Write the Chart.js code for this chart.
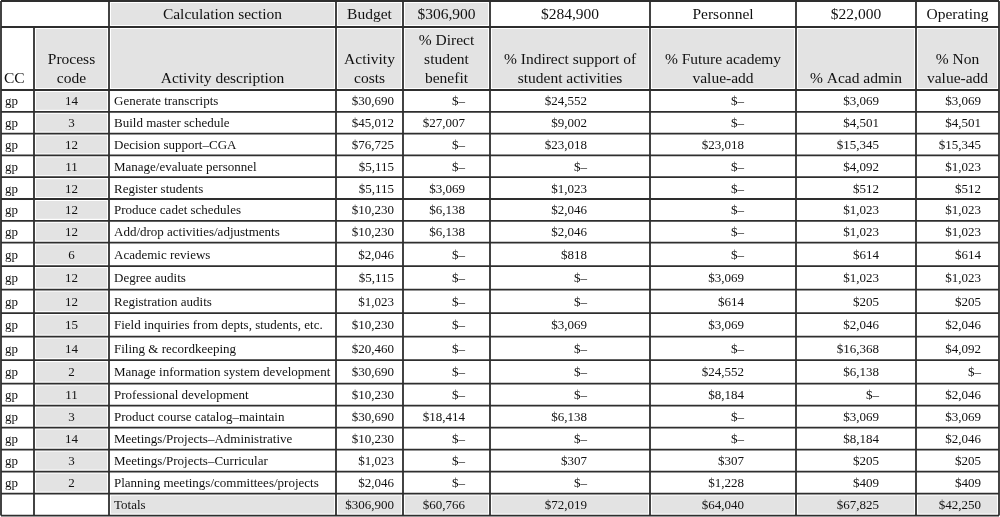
<!DOCTYPE html>
<html>
<head>
<meta charset="utf-8">
<script src="https://cdn.jsdelivr.net/npm/chart.js@4"></script>
<style>
  html, body { margin: 0; padding: 0; background: #fff; }
  #tabella { display: block; }
</style>
</head>
<body>
<canvas id="tabella" width="1000" height="517"></canvas>
<script>
// --- dati ---
const topHeader = ['', 'Calculation section', 'Budget', '$306,900', '$284,900', 'Personnel', '$22,000', 'Operating'];
const colHeaders = [
    ['CC'],
    ['Process', 'code'],
    ['Activity description'],
    ['Activity', 'costs'],
    ['% Direct', 'student', 'benefit'],
    ['% Indirect support of', 'student activities'],
    ['% Future academy', 'value-add'],
    ['% Acad admin'],
    ['% Non', 'value-add']
];
const cc = ['gp','gp','gp','gp','gp','gp','gp','gp','gp','gp','gp','gp','gp','gp','gp','gp','gp','gp'];
const processCodes = [14, 3, 12, 11, 12, 12, 12, 6, 12, 12, 15, 14, 2, 11, 3, 14, 3, 2];
const descriptions = [
    'Generate transcripts',
    'Build master schedule',
    'Decision support\u2013CGA',
    'Manage/evaluate personnel',
    'Register students',
    'Produce cadet schedules',
    'Add/drop activities/adjustments',
    'Academic reviews',
    'Degree audits',
    'Registration audits',
    'Field inquiries from depts, students, etc.',
    'Filing & recordkeeping',
    'Manage information system development',
    'Professional development',
    'Product course catalog\u2013maintain',
    'Meetings/Projects\u2013Administrative',
    'Meetings/Projects\u2013Curricular',
    'Planning meetings/committees/projects'
];
const activityCosts = [30690, 45012, 76725, 5115, 5115, 10230, 10230, 2046, 5115, 1023, 10230, 20460, 30690, 10230, 30690, 10230, 1023, 2046];
const directBenefit = [0, 27007, 0, 0, 3069, 6138, 6138, 0, 0, 0, 0, 0, 0, 0, 18414, 0, 0, 0];
const indirectSupport = [24552, 9002, 23018, 0, 1023, 2046, 2046, 818, 0, 0, 3069, 0, 0, 0, 6138, 0, 307, 0];
const futureValue = [0, 0, 23018, 0, 0, 0, 0, 0, 3069, 614, 3069, 0, 24552, 8184, 0, 0, 307, 1228];
const acadAdmin = [3069, 4501, 15345, 4092, 512, 1023, 1023, 614, 1023, 205, 2046, 16368, 6138, 0, 3069, 8184, 205, 409];
const nonValueAdd = [3069, 4501, 15345, 1023, 512, 1023, 1023, 614, 1023, 205, 2046, 4092, 0, 2046, 3069, 2046, 205, 409];
const totalsLabel = 'Totals';
const totals = [306900, 60766, 72019, 64040, 67825, 42250];

// --- layout (unita' delle scale) ---
const colWidths = [33, 75, 227, 67, 87, 160, 146, 120, 83];
const rightPad = [0, 0, 0, 9, 25, 63, 52, 37, 18];
const headerHeights = [26, 63];
const dataRowHeights = [21.8, 21.8, 21.8, 21.8, 21.8, 21.8, 21.8,
                        23.5, 23.5, 23.5, 23.5, 23.5, 23.5,
                        22, 22, 22, 22, 22, 22];

const GRIGIO = '#e3e3e3';
const LINEA = '#2e2e2e';
const TESTO = '#111';
const FONT_HEAD = '15.5px "Liberation Serif", serif';
const FONT_BODY = '13px "Liberation Serif", serif';

function fmt(v) {
    if (!v) return '$\u2013';
    return '$' + v.toLocaleString('en-US');
}

function cumul(start, arr) {
    let out = [start];
    arr.forEach(w => out.push(out[out.length - 1] + w));
    return out;
}

const colEdges = cumul(1, colWidths);
const rowEdges = cumul(1, headerHeights.concat(dataRowHeights));

const tablePlugin = {
    id: 'tabella',
    beforeDatasetsDraw(chart) {
        const ctx = chart.ctx;
        const xs = chart.scales.x, ys = chart.scales.y;
        const X = i => xs.getPixelForValue(colEdges[i]);
        const Y = r => ys.getPixelForValue(rowEdges[r]);

        function fillCell(c0, c1, r, col) {
            ctx.fillStyle = col;
            ctx.fillRect(X(c0) + 2, Y(r) + 2, X(c1) - X(c0) - 4, Y(r + 1) - Y(r) - 4);
        }
        function text(t, x, y, align, font) {
            ctx.font = font;
            ctx.fillStyle = TESTO;
            ctx.textAlign = align;
            ctx.textBaseline = 'middle';
            ctx.fillText(t, x, y);
        }

        ctx.save();
        ctx.fillStyle = '#fff';
        ctx.fillRect(0, 0, chart.width, chart.height);

        // celle grigie
        for (let c = 2; c <= 4; c++) fillCell(c, c + 1, 0, GRIGIO);
        for (let c = 1; c < 9; c++) fillCell(c, c + 1, 1, GRIGIO);
        const nData = descriptions.length;
        for (let r = 0; r < nData; r++) fillCell(1, 2, r + 2, GRIGIO);
        for (let c = 2; c < 9; c++) fillCell(c, c + 1, nData + 2, GRIGIO);

        // linee
        ctx.strokeStyle = LINEA;
        ctx.lineWidth = 1.8;
        const nRows = rowEdges.length - 1;
        for (let r = 0; r <= nRows; r++) {
            ctx.beginPath();
            ctx.moveTo(X(0), Y(r));
            ctx.lineTo(X(9), Y(r));
            ctx.stroke();
        }
        for (let c = 0; c <= 9; c++) {
            ctx.beginPath();
            // la prima riga unisce le colonne CC e Process code
            ctx.moveTo(X(c), c === 1 ? Y(1) : Y(0));
            ctx.lineTo(X(c), Y(nRows));
            ctx.stroke();
        }

        // intestazione superiore
        const yTop = (Y(0) + Y(1)) / 2 + 1;
        for (let i = 1; i < topHeader.length; i++) {
            const c = i + 1;
            text(topHeader[i], (X(c) + X(c + 1)) / 2, yTop, 'center', FONT_HEAD);
        }

        // intestazioni di colonna (allineate in basso)
        const lh = 19;
        colHeaders.forEach((lines, c) => {
            const yb = Y(2) - 11;
            lines.forEach((t, k) => {
                const y = yb - (lines.length - 1 - k) * lh;
                if (c === 0) text(t, X(0) + 3, y, 'left', FONT_HEAD);
                else text(t, (X(c) + X(c + 1)) / 2, y, 'center', FONT_HEAD);
            });
        });

        // righe dati
        const series = [activityCosts, directBenefit, indirectSupport, futureValue, acadAdmin, nonValueAdd];
        for (let r = 0; r < nData; r++) {
            const y = (Y(r + 2) + Y(r + 3)) / 2 + 1;
            text(cc[r], X(0) + 4, y, 'left', FONT_BODY);
            text(String(processCodes[r]), (X(1) + X(2)) / 2, y, 'center', FONT_BODY);
            text(descriptions[r], X(2) + 5, y, 'left', FONT_BODY);
            series.forEach((s, k) => {
                const c = k + 3;
                text(fmt(s[r]), X(c + 1) - rightPad[c], y, 'right', FONT_BODY);
            });
        }

        // totali
        const yt = (Y(nData + 2) + Y(nData + 3)) / 2 + 1;
        text(totalsLabel, X(2) + 5, yt, 'left', FONT_BODY);
        totals.forEach((v, k) => {
            const c = k + 3;
            text(fmt(v), X(c + 1) - rightPad[c], yt, 'right', FONT_BODY);
        });

        ctx.restore();
    }
};

let ctx = document.getElementById('tabella').getContext('2d');
let myChart = new Chart(ctx, {
    type: 'scatter',
    data: { datasets: [{ data: [], pointRadius: 0 }] },
    options: {
        responsive: false,
        animation: false,
        layout: { padding: 0 },
        plugins: { legend: { display: false }, tooltip: { enabled: false } },
        scales: {
            x: { type: 'linear', min: 0, max: 1000, display: false },
            y: { type: 'linear', min: 0, max: 517, reverse: true, display: false }
        }
    },
    plugins: [tablePlugin]
});
</script>
</body>
</html>
